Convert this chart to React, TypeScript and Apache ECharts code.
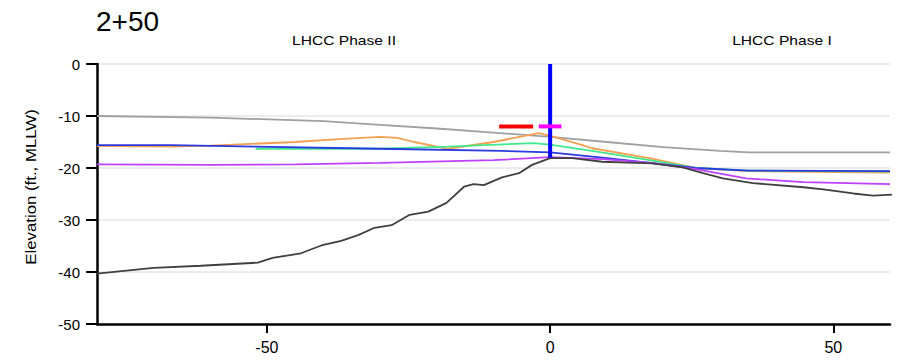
import React, { useEffect, useRef } from "react";
import * as echarts from "echarts";

const xTicks = [-50, 0, 50];
const yMin = -50;
const yMax = 0;

const gradeGray: [number, number][] = [
  [-80, -10], [-60, -10.3], [-40, -11], [-30, -11.7], [-20, -12.4], [-10, -13.2],
  [0, -14], [10, -15], [20, -16], [30, -16.7], [35, -17], [60, -17],
];
const orangeLine: [number, number][] = [
  [-80, -15.8], [-67, -15.9], [-60, -15.7], [-45, -15], [-38, -14.5], [-30, -14], [-27, -14.2],
  [-24, -15], [-18, -16.3], [-10, -15], [-2, -13.3], [0, -13.8], [5.7, -15.6], [7.4, -16.2],
  [17.5, -18.1], [25.7, -20], [35, -20.6], [60, -20.9],
];
const greenLine: [number, number][] = [
  [-52, -16.3], [-30, -16.3], [-18, -15.9], [-3, -15.2], [0, -15.5], [7.4, -16.7],
  [17, -18.4], [25.7, -20], [35, -20.5], [60, -20.7],
];
const blueLine: [number, number][] = [
  [-80, -15.6], [-67, -15.6], [-52, -15.9], [-30, -16.3], [-8.5, -16.7], [0, -17],
  [9.2, -18], [25.7, -20], [35, -20.5], [60, -20.6],
];
const purpleLine: [number, number][] = [
  [-80, -19.3], [-60, -19.4], [-45, -19.3], [-30, -19], [-10, -18.5], [0, -17.9],
  [9.2, -18.3], [18, -19], [25.7, -20.2], [34.6, -22], [44.7, -22.7], [60, -23.1],
];
const groundLine: [number, number][] = [
  [-80, -40.3], [-70, -39.2], [-61.7, -38.8], [-51.6, -38.2], [-49, -37.3], [-44, -36.4],
  [-40.4, -34.9], [-36.9, -34], [-33.9, -32.9], [-31, -31.5], [-28, -31], [-24.8, -29],
  [-21.5, -28.4], [-18.3, -26.7], [-15.2, -23.6], [-13.5, -23.1], [-11.7, -23.3],
  [-8.5, -21.8], [-5.5, -21], [-3.2, -19.4], [0, -18.1], [3.9, -18.1], [9.2, -18.8],
  [18, -19.1], [23.4, -19.9], [27, -21], [30.5, -22], [35.8, -22.9], [44.7, -23.7],
  [48.2, -24.1], [53.5, -24.9], [57, -25.3], [60.6, -25.1],
];
const centerLine: [number, number][] = [[0, 0], [0, -18]];
const redDash: [number, number][] = [[-9, -12], [-3, -12]];
const magentaDash: [number, number][] = [[-2, -12], [2, -12]];

const FONT = "Liberation Sans, Arial, sans-serif";

export default function App() {
  const ref = useRef<HTMLDivElement>(null);
  useEffect(() => {
    if (!ref.current) return;
    const chart = echarts.init(ref.current, undefined, { renderer: "svg" });
    const line = (data: [number, number][], color: string, width: number, z = 2) => ({
      type: "line",
      data,
      showSymbol: false,
      symbol: "none",
      smooth: false,
      lineStyle: { color, width },
      z,
    });
    chart.setOption({
      animation: false,
      textStyle: { fontFamily: FONT },
      grid: { left: 97, right: 20, top: 64, bottom: 37, containLabel: false },
      xAxis: {
        type: "value",
        min: -80,
        max: 60,
        splitLine: { show: false },
        axisLine: { onZero: false, lineStyle: { color: "#000", width: 2.5 } },
        axisTick: { show: true, customValues: xTicks, length: 9, lineStyle: { color: "#000", width: 2 } },
        axisLabel: { customValues: xTicks, color: "#000", fontSize: 16, margin: 15, fontFamily: FONT },
      },
      yAxis: {
        type: "value",
        min: yMin,
        max: yMax,
        interval: 10,
        splitLine: { show: true, lineStyle: { color: "#ececec", width: 2 } },
        axisLine: { show: true, onZero: false, lineStyle: { color: "#000", width: 2.5 } },
        axisTick: { show: true, length: 11, lineStyle: { color: "#000", width: 2 } },
        axisLabel: { color: "#000", fontSize: 15, margin: 17, fontFamily: FONT },
      },
      graphic: [
        { type: "text", x: 96, y: 7, style: { text: "2+50", fontSize: 28, fill: "#000", fontFamily: FONT } },
        { type: "text", x: 344, y: 40, scaleX: 1.2, style: { text: "LHCC Phase II", fontSize: 13, fill: "#000", fontFamily: FONT, align: "center", verticalAlign: "middle" } },
        { type: "text", x: 782, y: 40, scaleX: 1.2, style: { text: "LHCC Phase I", fontSize: 13, fill: "#000", fontFamily: FONT, align: "center", verticalAlign: "middle" } },
        { type: "text", x: 31, y: 187, rotation: Math.PI / 2, scaleX: 1.2, style: { text: "Elevation (ft., MLLW)", fontSize: 14, fill: "#000", fontFamily: FONT, align: "center", verticalAlign: "middle" } },
      ],
      series: [
        line(gradeGray, "#a0a0a0", 1.8),
        line(orangeLine, "#f5a050", 1.8),
        line(greenLine, "#40e890", 1.8),
        line(blueLine, "#2a3ae0", 1.8),
        line(purpleLine, "#c040ff", 1.8),
        line(groundLine, "#404040", 1.8),
        line(centerLine, "#0000ff", 4, 5),
        line(redDash, "#ff0000", 4, 5),
        line(magentaDash, "#ff00ff", 4, 5),
      ],
    });
    return () => chart.dispose();
  }, []);
  return <div ref={ref} style={{ width: 910, height: 361, position: "absolute", left: 0, top: 0 }} />;
}
